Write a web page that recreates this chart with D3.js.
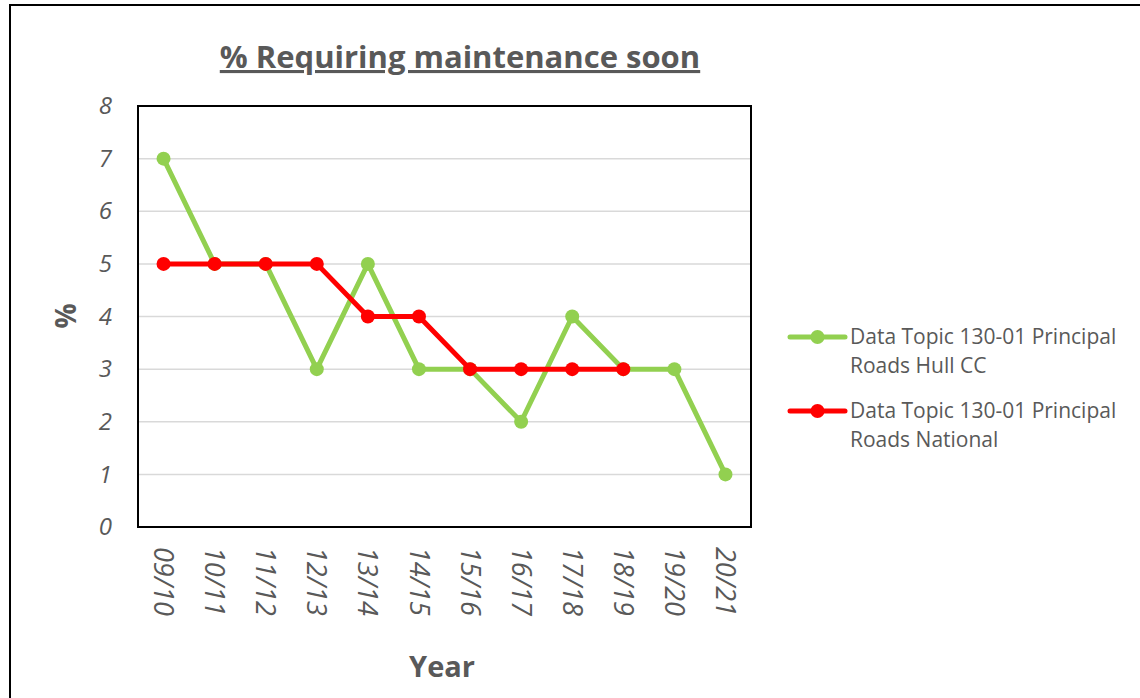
<!DOCTYPE html>
<html>
<head>
<meta charset="utf-8">
<script src="https://cdn.jsdelivr.net/npm/d3@7"></script>
<style>
  body { margin: 0; background: #fff; }
  text { font-family: "Open Sans", "Liberation Sans", sans-serif; fill: #595959; }
</style>
</head>
<body>
<div id="chart"></div>
<script>
// data
var years = ["09/10", "10/11", "11/12", "12/13", "13/14", "14/15", "15/16", "16/17", "17/18", "18/19", "19/20", "20/21"];
var hullValues = [7, 5, 5, 3, 5, 3, 3, 2, 4, 3, 3, 1];
var nationalValues = [5, 5, 5, 5, 4, 4, 3, 3, 3, 3];
var yTicks = [0, 1, 2, 3, 4, 5, 6, 7, 8];
var seriesNames = ["Data Topic 130-01 Principal Roads Hull CC", "Data Topic 130-01 Principal Roads National"];
var seriesColors = ["#92d050", "#ff0000"];

var svgWidth = 1140, svgHeight = 698;
var margin = {top: 106, left: 138};
var chartWidth = 613, chartHeight = 421;

var svg = d3.select("#chart").append("svg")
  .attr("width", svgWidth)
  .attr("height", svgHeight);

// outer frame
svg.append("rect")
  .attr("x", 10).attr("y", 5)
  .attr("width", 1140).attr("height", 710)
  .attr("fill", "none").attr("stroke", "#000").attr("stroke-width", 2);

var chartGroup = svg.append("g")
  .attr("transform", `translate(${margin.left}, ${margin.top})`);

var xScale = d3.scaleBand().domain(years).range([0, chartWidth]);
var yScale = d3.scaleLinear().domain([0, 8]).range([chartHeight, 0]);

// gridlines
chartGroup.selectAll(".grid")
  .data(yTicks.filter(d => d > 0 && d < 8))
  .enter().append("line")
  .attr("x1", 0).attr("x2", chartWidth)
  .attr("y1", d => yScale(d)).attr("y2", d => yScale(d))
  .attr("stroke", "#d9d9d9").attr("stroke-width", 1.5);

// y axis labels
var yAxis = d3.axisLeft(yScale).tickValues(yTicks).tickSize(0).tickPadding(26);
var yG = chartGroup.append("g").call(yAxis);
yG.select(".domain").remove();
yG.selectAll("text")
  .attr("font-size", "24px").attr("font-style", "italic")
  .attr("font-family", "Open Sans, sans-serif").attr("fill", "#595959");

// x axis labels, rotated
var xAxis = d3.axisBottom(xScale).tickSize(0);
var xG = chartGroup.append("g")
  .attr("transform", `translate(0, ${chartHeight})`)
  .call(xAxis);
xG.select(".domain").remove();
xG.selectAll("text")
  .attr("font-size", "27px").attr("font-style", "italic")
  .attr("font-family", "Open Sans, sans-serif").attr("fill", "#595959")
  .attr("text-anchor", "start")
  .attr("dy", "0.35em")
  .attr("transform", "translate(0, 20) rotate(90)")
  .attr("x", 0).attr("y", 0);

// plot border
chartGroup.append("rect")
  .attr("width", chartWidth).attr("height", chartHeight)
  .attr("fill", "none").attr("stroke", "#000").attr("stroke-width", 2);

var line = d3.line()
  .x((d, i) => xScale(years[i]) + xScale.bandwidth() / 2)
  .y(d => yScale(d));

[hullValues, nationalValues].forEach(function(vals, k) {
  chartGroup.append("path")
    .datum(vals)
    .attr("d", line)
    .attr("fill", "none")
    .attr("stroke", seriesColors[k])
    .attr("stroke-width", 5)
    .attr("stroke-linejoin", "round");
  chartGroup.selectAll(".pt" + k)
    .data(vals)
    .enter().append("circle")
    .attr("cx", (d, i) => xScale(years[i]) + xScale.bandwidth() / 2)
    .attr("cy", d => yScale(d))
    .attr("r", 7)
    .attr("fill", seriesColors[k]);
});

// title
svg.append("text")
  .attr("x", 460).attr("y", 68)
  .attr("text-anchor", "middle")
  .attr("font-size", "31px").attr("font-weight", "bold")
  .attr("text-decoration", "underline")
  .text("% Requiring maintenance soon");

// axis titles
svg.append("text")
  .attr("transform", "translate(76, 316) rotate(-90)")
  .attr("text-anchor", "middle")
  .attr("font-size", "28px").attr("font-weight", "bold")
  .text("%");

svg.append("text")
  .attr("x", 442).attr("y", 677)
  .attr("text-anchor", "middle")
  .attr("font-size", "29px").attr("font-weight", "bold")
  .text("Year");

// legend
var legendY = [337, 411];
seriesNames.forEach(function(name, k) {
  var g = svg.append("g").attr("transform", `translate(790, ${legendY[k]})`);
  g.append("line").attr("x1", 0).attr("x2", 55)
    .attr("stroke", seriesColors[k]).attr("stroke-width", 5).attr("stroke-linecap", "round");
  g.append("circle").attr("cx", 27.5).attr("r", 7).attr("fill", seriesColors[k]);
  var words = name.split(" ");
  var t = g.append("text").attr("x", 60).attr("y", 7).attr("font-size", "21px");
  t.append("tspan").attr("x", 60).attr("dy", 0).text(words.slice(0, 4).join(" "));
  t.append("tspan").attr("x", 60).attr("dy", 29).text(words.slice(4).join(" "));
});
</script>
</body>
</html>
